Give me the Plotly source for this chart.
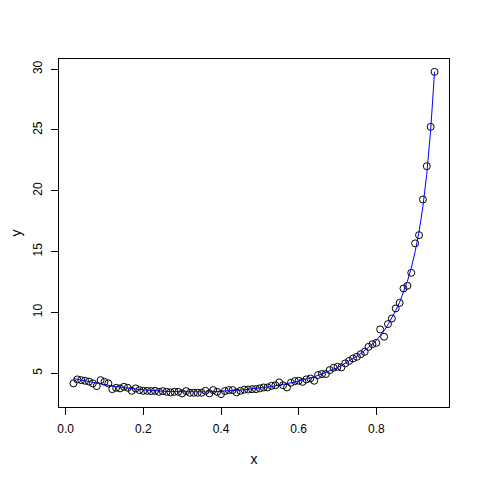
import plotly.graph_objects as go

# observed points
x_obs = [0.02, 0.03, 0.04, 0.05, 0.06, 0.07, 0.08, 0.09, 0.10, 0.11,
         0.12, 0.13, 0.14, 0.15, 0.16, 0.17, 0.18, 0.19, 0.20, 0.21,
         0.22, 0.23, 0.24, 0.25, 0.26, 0.27, 0.28, 0.29, 0.30, 0.31,
         0.32, 0.33, 0.34, 0.35, 0.36, 0.37, 0.38, 0.39, 0.40, 0.41,
         0.42, 0.43, 0.44, 0.45, 0.46, 0.47, 0.48, 0.49, 0.50, 0.51,
         0.52, 0.53, 0.54, 0.55, 0.56, 0.57, 0.58, 0.59, 0.60, 0.61,
         0.62, 0.63, 0.64, 0.65, 0.66, 0.67, 0.68, 0.69, 0.70, 0.71,
         0.72, 0.73, 0.74, 0.75, 0.76, 0.77, 0.78, 0.79, 0.80, 0.81,
         0.82, 0.83, 0.84, 0.85, 0.86, 0.87, 0.88, 0.89, 0.90, 0.91,
         0.92, 0.93, 0.94, 0.95]
y_obs = [4.15, 4.48, 4.42, 4.37, 4.30, 4.15, 3.93, 4.42, 4.28, 4.15,
         3.68, 3.79, 3.74, 3.87, 3.79, 3.54, 3.74, 3.60, 3.54, 3.54,
         3.52, 3.54, 3.46, 3.52, 3.46, 3.41, 3.46, 3.46, 3.33, 3.52,
         3.38, 3.38, 3.38, 3.38, 3.54, 3.33, 3.60, 3.46, 3.27, 3.52,
         3.60, 3.60, 3.41, 3.54, 3.64, 3.65, 3.68, 3.68, 3.74, 3.82,
         3.82, 3.95, 4.00, 4.23, 4.00, 3.82, 4.20, 4.34, 4.37, 4.28,
         4.48, 4.56, 4.37, 4.84, 4.92, 4.92, 5.25, 5.44, 5.52, 5.47,
         5.80, 6.00, 6.20, 6.34, 6.56, 6.75, 7.16, 7.38, 7.49, 8.59,
         7.99, 9.03, 9.49, 10.32, 10.78, 11.96, 12.18, 13.25, 15.67, 16.35,
         19.28, 22.02, 25.26, 29.78]

# fitted curve, same x
y_fit = [4.55, 4.50, 4.45, 4.38, 4.31, 4.24, 4.17, 4.11, 4.05, 4.00,
         3.94, 3.89, 3.84, 3.80, 3.76, 3.72, 3.68, 3.65, 3.62, 3.59,
         3.57, 3.54, 3.52, 3.50, 3.49, 3.48, 3.47, 3.46, 3.45, 3.45,
         3.44, 3.44, 3.44, 3.45, 3.45, 3.46, 3.47, 3.48, 3.50, 3.51,
         3.53, 3.55, 3.57, 3.60, 3.63, 3.66, 3.69, 3.73, 3.77, 3.81,
         3.85, 3.90, 3.95, 4.00, 4.06, 4.12, 4.19, 4.26, 4.34, 4.42,
         4.51, 4.60, 4.70, 4.81, 4.93, 5.06, 5.20, 5.35, 5.45, 5.62,
         5.80, 5.99, 6.19, 6.40, 6.60, 6.84, 7.10, 7.38, 7.68, 8.05,
         8.48, 8.98, 9.52, 10.15, 10.83, 11.62, 12.55, 13.65, 14.98, 16.62,
         18.70, 21.40, 25.00, 29.80]

x_ticks = [0.0, 0.2, 0.4, 0.6, 0.8]
y_ticks = [5, 10, 15, 20, 25, 30]

fig = go.Figure()

fig.add_trace(go.Scatter(
    x=x_obs, y=y_obs, mode='markers', name='data',
    marker=dict(symbol='circle-open', size=7, color='black', line=dict(width=1)),
))
fig.add_trace(go.Scatter(
    x=x_obs, y=y_fit, mode='lines', name='fit',
    line=dict(color='blue', width=1),
))

font = dict(family='Liberation Sans, Arial, sans-serif', size=12, color='black')

# the page body adds an 8px offset, so margins are shifted to compensate
fig.update_layout(
    width=480, height=480,
    margin=dict(l=51, r=39, t=51, b=81, autoexpand=False),
    plot_bgcolor='white', paper_bgcolor='white',
    showlegend=False,
    font=font,
)

fig.update_xaxes(
    range=[-0.0172, 0.9872],
    tickvals=x_ticks, ticktext=['0.0', '0.2', '0.4', '0.6', '0.8'],
    ticks='outside', ticklen=7, tickcolor='black', tickwidth=1,
    ticklabelstandoff=4,
    showline=True, linecolor='black', linewidth=1, mirror=True,
    showgrid=False, zeroline=False, automargin=False,
    title=dict(text='x', standoff=18),
)
fig.update_yaxes(
    range=[2.21, 30.84],
    tickvals=y_ticks,
    ticks='outside', ticklen=7, tickcolor='black', tickwidth=1,
    tickangle=-90,
    ticklabelstandoff=4,
    showline=True, linecolor='black', linewidth=1, mirror=True,
    showgrid=False, zeroline=False, automargin=False,
    title=dict(text='y', standoff=21),
)

fig.write_html("out.html")
